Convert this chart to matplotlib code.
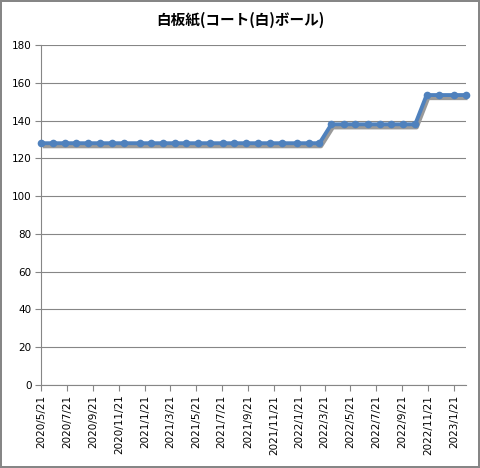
import numpy as np
import matplotlib
matplotlib.use("Agg")
import matplotlib.pyplot as plt
import matplotlib.transforms as mtransforms
from datetime import datetime

# data
dates = ["2020/5/21", "2020/6/18", "2020/7/16", "2020/8/12", "2020/9/9", "2020/10/7",
         "2020/11/5", "2020/12/3", "2021/1/8", "2021/2/4", "2021/3/4", "2021/4/1",
         "2021/4/28", "2021/5/27", "2021/6/24", "2021/7/23", "2021/8/19", "2021/9/16",
         "2021/10/14", "2021/11/11", "2021/12/10", "2022/1/15", "2022/2/12", "2022/3/9",
         "2022/4/6", "2022/5/5", "2022/6/2", "2022/7/1", "2022/7/30", "2022/8/26",
         "2022/9/23", "2022/10/21", "2022/11/17", "2022/12/17", "2023/1/21", "2023/2/18"]
prices = [128]*24 + [138]*8 + [153.5]*4
tick_dates = ["2020/5/21", "2020/7/21", "2020/9/21", "2020/11/21", "2021/1/21", "2021/3/21",
              "2021/5/21", "2021/7/21", "2021/9/21", "2021/11/21", "2022/1/21", "2022/3/21",
              "2022/5/21", "2022/7/21", "2022/9/21", "2022/11/21", "2023/1/21"]
title = "白板紙(コート(白)ボール)"

x = [datetime.strptime(d, "%Y/%m/%d") for d in dates]
xt = [datetime.strptime(d, "%Y/%m/%d") for d in tick_dates]

fig = plt.figure(figsize=(4.8, 4.68), dpi=100)
fig.patch.set_edgecolor("#868686")
fig.patch.set_linewidth(1.5)
W, H = 480, 468
ax = fig.add_axes([41.3/W, 1 - 385/H, (466 - 41.3)/W, (385 - 45)/H])

grid_c = "#868686"
ax.set_ylim(0, 180)
ax.set_yticks(np.arange(0, 181, 20))
ax.yaxis.grid(True, color=grid_c, linewidth=0.8)
ax.set_axisbelow(True)
ax.set_xlim(x[0], x[-1])
ax.set_xticks(xt)
ax.set_xticklabels(tick_dates, rotation=90, fontsize=7.5, family="DejaVu Sans")
for lab in ax.get_yticklabels():
    lab.set_fontsize(7.5)
for s in ["top", "right"]:
    ax.spines[s].set_visible(False)
for s in ["left", "bottom"]:
    ax.spines[s].set_color(grid_c)
ax.tick_params(axis="both", color=grid_c, length=4, width=0.8, pad=3)

# grey shadow under the line
shadow = ax.transData + mtransforms.ScaledTranslation(1.5/100, -3/100, fig.dpi_scale_trans)
ax.plot(x, prices, color="#9a9a9a", linewidth=3, transform=shadow, clip_on=False,
        zorder=2, solid_capstyle="butt")
ax.plot(x, prices, color="#4F81BD", linewidth=2.8, marker="o", markersize=5.5,
        markeredgewidth=0, clip_on=False, zorder=3)

fig.text(0.5, 1 - 20/H, title, ha="center", va="center", fontsize=10.5, fontweight="bold",
         family=["Noto Sans CJK JP", "DejaVu Sans"])

fig.savefig("out.png", dpi=100, edgecolor=fig.get_edgecolor())
